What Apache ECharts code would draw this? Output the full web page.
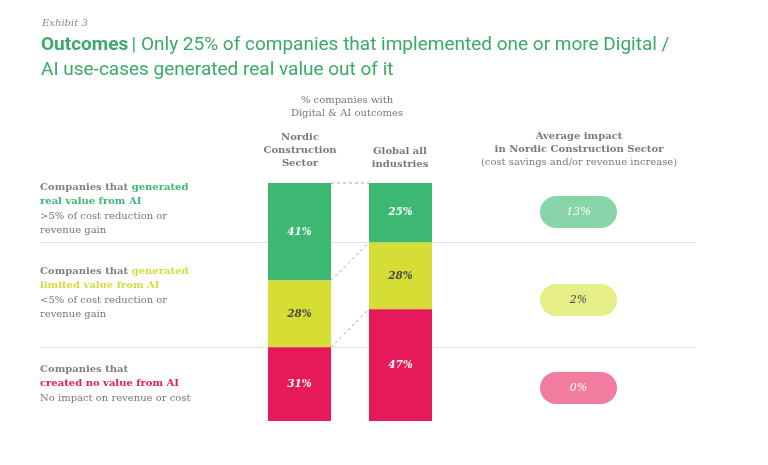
<!DOCTYPE html>
<html>
<head>
<meta charset="utf-8">
<script src="https://cdn.jsdelivr.net/npm/echarts@6/dist/echarts.min.js"></script>
<style>
html, body { margin: 0; padding: 0; background: #fff; }
#chart { width: 768px; height: 465px; }
</style>
</head>
<body>
<div id="chart"></div>
<script>
// data
var sectors = ['Nordic Construction Sector', 'Global all industries'];
var outcomes = ['Real value', 'Limited value', 'No value'];
var realValue = [41, 25];
var limitedValue = [28, 28];
var noValue = [31, 47];
var avgImpact = [13, 2, 0];

var barColors = ['#3cb872', '#d6de35', '#e61a5a'];
var pillColors = ['#88d5aa', '#e6ee87', '#f27ba0'];
var valueColors = ['#ffffff', '#4a4a4a', '#ffffff'];

var SERIF = '"DejaVu Serif", Georgia, serif';
var SANS = 'Roboto, "Noto Sans", sans-serif';
var BAR_W = 63;

var chart = echarts.init(document.getElementById('chart'));

// boundaries between segments, for the dashed connectors
var stacks = [realValue, limitedValue, noValue];
var bounds = [];
var acc = [0, 0];
for (var s = 0; s < stacks.length; s++) {
    bounds.push([0, acc[0], acc[1]]);
    acc = [acc[0] + stacks[s][0], acc[1] + stacks[s][1]];
}

function barSeries(name, values, idx) {
    return {
        name: name,
        type: 'bar',
        stack: 'share',
        barWidth: BAR_W,
        xAxisIndex: 0,
        yAxisIndex: 0,
        z: 3,
        itemStyle: { color: barColors[idx] },
        label: {
            show: true,
            position: 'inside',
            formatter: '{c}%',
            color: valueColors[idx],
            fontFamily: SERIF,
            fontStyle: 'italic',
            fontWeight: 'bold',
            fontSize: 10.5
        },
        data: values
    };
}

var leftText = [
    { y: 182, text: '{b|Companies that }{g|generated}\n{g|real value from AI}\n{r|>5% of cost reduction or}\n{r|revenue gain}', color: barColors[0] },
    { y: 266, text: '{b|Companies that }{g|generated}\n{g|limited value from AI}\n{r|<5% of cost reduction or}\n{r|revenue gain}', color: '#d3dc3c' },
    { y: 364, text: '{b|Companies that}\n{g|created no value from AI}\n{r|No impact on revenue or cost}', color: barColors[2] }
];

var graphics = [
    { type: 'line', z: 0, shape: { x1: 40, y1: 242.5, x2: 696, y2: 242.5 }, style: { stroke: '#e3e3e3', lineWidth: 1 } },
    { type: 'line', z: 0, shape: { x1: 40, y1: 347.5, x2: 696, y2: 347.5 }, style: { stroke: '#e3e3e3', lineWidth: 1 } },
    {
        type: 'text', left: 42, top: 18,
        style: { text: 'Exhibit 3', font: 'italic 10px ' + SERIF, fill: '#8a8a8a' }
    },
    {
        type: 'text', left: 41, top: 36,
        style: {
            text: '{h|Outcomes} {t|| Only 25% of companies that implemented one or more Digital /}\n{t|AI use-cases generated real value out of it}',
            rich: {
                h: { fontFamily: SANS, fontSize: 19, fontWeight: 'bold', fill: '#3aaa67', lineHeight: 25 },
                t: { fontFamily: SANS, fontSize: 19, fill: '#3aaa67', lineHeight: 25 }
            }
        }
    },
    {
        type: 'text', x: 347, y: 94,
        style: { text: '% companies with\nDigital & AI outcomes', textAlign: 'center', font: '10px ' + SERIF, fill: '#777', lineHeight: 13 }
    },
    {
        type: 'text', x: 300, y: 131,
        style: { text: 'Nordic\nConstruction\nSector', textAlign: 'center', font: 'bold 10px ' + SERIF, fill: '#7a7a7a', lineHeight: 13 }
    },
    {
        type: 'text', x: 400, y: 145,
        style: { text: 'Global all\nindustries', textAlign: 'center', font: 'bold 10px ' + SERIF, fill: '#7a7a7a', lineHeight: 13 }
    },
    {
        type: 'text', x: 579, y: 130,
        style: {
            text: '{b|Average impact}\n{b|in Nordic Construction Sector}\n{r|(cost savings and/or revenue increase)}',
            textAlign: 'center',
            rich: {
                b: { fontFamily: SERIF, fontSize: 10, fontWeight: 'bold', fill: '#7a7a7a', lineHeight: 13, align: 'center' },
                r: { fontFamily: SERIF, fontSize: 10, fill: '#7a7a7a', lineHeight: 13, align: 'center' }
            }
        }
    }
];

leftText.forEach(function (t) {
    graphics.push({
        type: 'text', left: 40, top: t.y,
        style: {
            text: t.text,
            rich: {
                b: { fontFamily: SERIF, fontSize: 10, fontWeight: 'bold', fill: '#808080', lineHeight: 14.5 },
                g: { fontFamily: SERIF, fontSize: 10, fontWeight: 'bold', fill: t.color, lineHeight: 14.5 },
                r: { fontFamily: SERIF, fontSize: 10, fill: '#777777', lineHeight: 14.5 }
            }
        }
    });
});

var option = {
    animation: false,
    backgroundColor: '#fff',
    graphic: graphics,
    grid: [
        { left: 249, width: 202, top: 183, bottom: 44 },
        { left: 540, width: 77, top: 168, height: 264 }
    ],
    xAxis: [
        { type: 'category', gridIndex: 0, data: sectors, show: false },
        { type: 'category', gridIndex: 1, data: ['impact'], show: false }
    ],
    yAxis: [
        { type: 'value', gridIndex: 0, min: 0, max: 100, inverse: true, show: false },
        { type: 'category', gridIndex: 1, data: outcomes, inverse: true, show: false }
    ],
    series: [
        barSeries(outcomes[0], realValue, 0),
        barSeries(outcomes[1], limitedValue, 1),
        barSeries(outcomes[2], noValue, 2),
        {
            type: 'custom',
            xAxisIndex: 0,
            yAxisIndex: 0,
            z: 2,
            encode: { x: 0, y: 1 },
            data: bounds,
            renderItem: function (params, api) {
                var a = api.coord([0, api.value(1)]);
                var b = api.coord([1, api.value(2)]);
                return {
                    type: 'line',
                    shape: { x1: a[0] + BAR_W / 2, y1: a[1], x2: b[0] - BAR_W / 2, y2: b[1] },
                    style: { stroke: '#a8a8a8', lineWidth: 1, lineDash: [3, 3] }
                };
            }
        },
        {
            type: 'scatter',
            xAxisIndex: 1,
            yAxisIndex: 1,
            symbol: 'path://M16,0 H61 A16,16 0 0 1 61,32 H16 A16,16 0 0 1 16,0 Z',
            symbolSize: [77, 32],
            label: {
                show: true,
                position: 'inside',
                fontFamily: SERIF,
                fontStyle: 'italic',
                fontSize: 11,
                formatter: function (p) { return p.value[2] + '%'; }
            },
            data: avgImpact.map(function (v, i) {
                return {
                    value: [0, i, v],
                    itemStyle: { color: pillColors[i], opacity: 1 },
                    label: { color: valueColors[i] }
                };
            })
        }
    ]
};

chart.setOption(option);
window.addEventListener('resize', function () { chart.resize(); });
</script>
</body>
</html>
